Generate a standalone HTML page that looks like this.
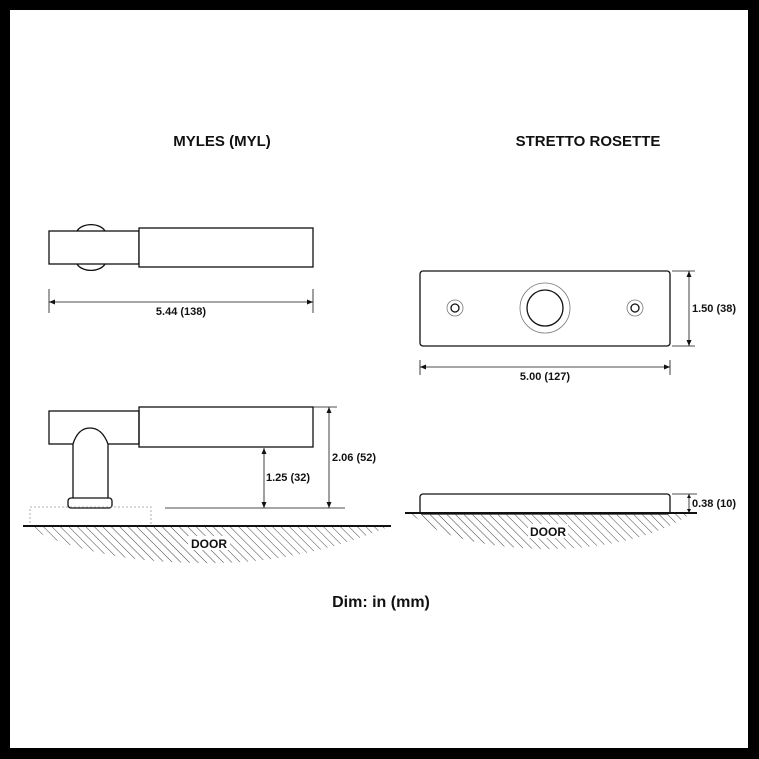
<!DOCTYPE html>
<html><head><style>
html,body{margin:0;padding:0;background:#000;}
svg{display:block;}
text{font-family:"Liberation Sans",Arial,sans-serif;fill:#111;}
</style></head><body>
<svg width="759" height="759" viewBox="0 0 759 759" xmlns="http://www.w3.org/2000/svg">
<defs>
<pattern id="h" width="6" height="6" patternUnits="userSpaceOnUse" patternTransform="rotate(-45)">
<line x1="0" y1="0" x2="0" y2="6" stroke="#444" stroke-width="1"/>
</pattern>
<clipPath id="c1"><path d="M25 526 L390 526 Q300 565 200 563 Q90 562 25 526 Z"/></clipPath>
<clipPath id="c2"><path d="M410 513 L692 513 Q640 548 550 549 Q450 548 410 513 Z"/></clipPath>
</defs>
<rect x="0" y="0" width="759" height="759" fill="#000"/>
<rect x="10" y="10" width="738" height="738" fill="#fff"/>
<text x="222" y="146" font-size="15" font-weight="bold" text-anchor="middle">MYLES (MYL)</text>
<text x="588" y="146" font-size="15" font-weight="bold" text-anchor="middle">STRETTO ROSETTE</text>
<text x="381" y="607" font-size="16" font-weight="bold" text-anchor="middle" fill="#222">Dim: in (mm)</text>

<g fill="none" stroke="#111" stroke-width="1.3">
<path d="M77 231 A15 10 0 0 1 105 231"/>
<path d="M77 264 A15 10 0 0 0 105 264"/>
<rect x="49" y="231" width="90" height="33" fill="#fff"/>
<rect x="139" y="228" width="174" height="39" fill="#fff"/>
<rect x="49" y="411" width="90" height="33"/>
<rect x="139" y="407" width="174" height="40"/>
<path d="M73 498 L73 444 Q78 428 90 428 Q102 428 108 444 L108 498" fill="#fff"/>
<rect x="68" y="498" width="44" height="10" rx="3"/>
</g>
<g stroke="#111" stroke-width="0.8" fill="none">
<line x1="49" y1="289" x2="49" y2="313"/>
<line x1="313" y1="289" x2="313" y2="313"/>
<line x1="49" y1="302" x2="313" y2="302"/>
<rect x="30" y="507" width="121" height="19" stroke="#999" stroke-dasharray="2,2"/>
<line x1="165" y1="508" x2="345" y2="508"/>
<line x1="264" y1="448" x2="264" y2="508"/>
<line x1="329" y1="407" x2="329" y2="508"/>
<line x1="313" y1="407" x2="337" y2="407"/>
</g>
<g fill="#111">
<path d="M49 302 l6 -2.5 v5z"/><path d="M313 302 l-6 -2.5 v5z"/>
<path d="M264 448 l-2.5 6 h5z"/><path d="M264 508 l-2.5 -6 h5z"/>
<path d="M329 407 l-2.5 6 h5z"/><path d="M329 508 l-2.5 -6 h5z"/>
</g>
<text x="181" y="315" font-size="11" font-weight="bold" text-anchor="middle">5.44 (138)</text>
<text x="266" y="481" font-size="11" font-weight="bold">1.25 (32)</text>
<text x="332" y="461" font-size="11" font-weight="bold">2.06 (52)</text>
<rect x="23" y="526" width="368" height="40" fill="url(#h)" clip-path="url(#c1)"/>
<line x1="23" y1="526" x2="391" y2="526" stroke="#111" stroke-width="2"/>
<rect x="188" y="536" width="42" height="14" fill="#fff"/>
<text x="209" y="548" font-size="12" font-weight="bold" text-anchor="middle">DOOR</text>

<g fill="none" stroke="#111" stroke-width="1.3">
<rect x="420" y="271" width="250" height="75" rx="3"/>
<circle cx="545" cy="308" r="18"/>
<circle cx="455" cy="308" r="4"/>
<circle cx="635" cy="308" r="4"/>
</g>
<g fill="none" stroke="#777" stroke-width="0.8">
<circle cx="545" cy="308" r="25"/>
<circle cx="455" cy="308" r="8"/>
<circle cx="635" cy="308" r="8"/>
</g>
<g stroke="#111" stroke-width="0.8" fill="none">
<line x1="672" y1="271" x2="695" y2="271"/>
<line x1="672" y1="346" x2="695" y2="346"/>
<line x1="689" y1="271" x2="689" y2="346"/>
<line x1="420" y1="360" x2="420" y2="375"/>
<line x1="670" y1="360" x2="670" y2="375"/>
<line x1="420" y1="367" x2="670" y2="367"/>
<line x1="672" y1="494" x2="697" y2="494"/>
<line x1="689" y1="494" x2="689" y2="513"/>
</g>
<g fill="#111">
<path d="M689 271 l-2.5 6 h5z"/><path d="M689 346 l-2.5 -6 h5z"/>
<path d="M420 367 l6 -2.5 v5z"/><path d="M670 367 l-6 -2.5 v5z"/>
<path d="M689 494 l-2 4 h4z"/><path d="M689 513 l-2 -4 h4z"/>
</g>
<text x="692" y="312" font-size="11" font-weight="bold">1.50 (38)</text>
<text x="545" y="380" font-size="11" font-weight="bold" text-anchor="middle">5.00 (127)</text>
<text x="692" y="507" font-size="11" font-weight="bold">0.38 (10)</text>
<rect x="420" y="494" width="250" height="20" rx="3" fill="#fff" stroke="#111" stroke-width="1.3"/>
<rect x="405" y="513" width="292" height="40" fill="url(#h)" clip-path="url(#c2)"/>
<line x1="405" y1="513" x2="697" y2="513" stroke="#111" stroke-width="2"/>
<rect x="528" y="524" width="40" height="14" fill="#fff"/>
<text x="548" y="536" font-size="12" font-weight="bold" text-anchor="middle">DOOR</text>
</svg>
</body></html>
